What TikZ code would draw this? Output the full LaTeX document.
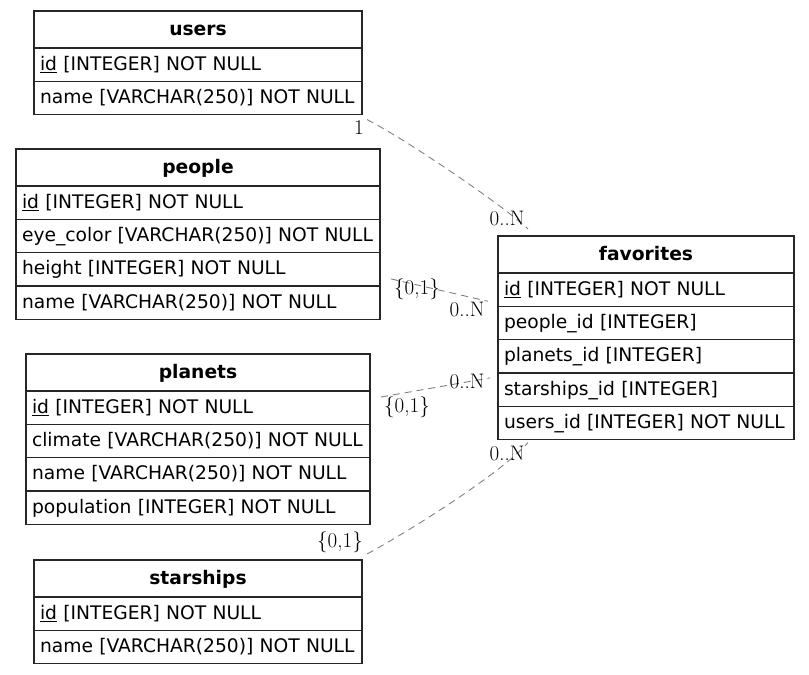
\documentclass[tikz,border=0pt]{standalone}
\usepackage{fontspec}
\setsansfont{DejaVu Sans}
\begin{document}
\begin{tikzpicture}[x=1pt,y=-1pt,
  tbl/.style={draw=black!85, line width=1.2pt, anchor=north west, inner xsep=6pt, inner ysep=0pt, outer sep=0pt,
    font=\sffamily\fontsize{18.7}{22}\selectfont, text height=15pt, text depth=4pt},
  ttl/.style={tbl, font=\sffamily\bfseries\fontsize{18.7}{22}\selectfont, align=center, minimum height=37pt, text width=#1},
  rw/.style={tbl, align=left, minimum height=33.3pt, text width=#1},
  card/.style={font=\fontsize{21}{24}\selectfont, inner sep=0pt, text=black},
  rel/.style={draw=gray, line width=0.9pt, dash pattern=on 7pt off 5pt}
]
\useasboundingbox (0,0) rectangle (809,675);

% users
\node[ttl=316pt] (users-title) at (34,11) {users};
\node[rw=316pt] (users-id) at (users-title.south west) {\underline{id} [INTEGER] NOT NULL};
\node[rw=316pt] (users-name) at (users-id.south west) {name [VARCHAR(250)] NOT NULL};

% people
\node[ttl=352pt] (people-title) at (16,149) {people};
\node[rw=352pt] (people-id) at (people-title.south west) {\underline{id} [INTEGER] NOT NULL};
\node[rw=352pt] (people-eye) at (people-id.south west) {eye\_color [VARCHAR(250)] NOT NULL};
\node[rw=352pt] (people-height) at (people-eye.south west) {height [INTEGER] NOT NULL};
\node[rw=352pt] (people-name) at (people-height.south west) {name [VARCHAR(250)] NOT NULL};

% planets
\node[ttl=332pt] (planets-title) at (26,354) {planets};
\node[rw=332pt] (planets-id) at (planets-title.south west) {\underline{id} [INTEGER] NOT NULL};
\node[rw=332pt] (planets-climate) at (planets-id.south west) {climate [VARCHAR(250)] NOT NULL};
\node[rw=332pt] (planets-name) at (planets-climate.south west) {name [VARCHAR(250)] NOT NULL};
\node[rw=332pt] (planets-pop) at (planets-name.south west) {population [INTEGER] NOT NULL};

% starships
\node[ttl=316pt] (starships-title) at (34,560) {starships};
\node[rw=316pt] (starships-id) at (starships-title.south west) {\underline{id} [INTEGER] NOT NULL};
\node[rw=316pt] (starships-name) at (starships-id.south west) {name [VARCHAR(250)] NOT NULL};

% favorites
\node[ttl=284pt] (fav-title) at (498,236) {favorites};
\node[rw=284pt] (fav-id) at (fav-title.south west) {\underline{id} [INTEGER] NOT NULL};
\node[rw=284pt] (fav-people) at (fav-id.south west) {people\_id [INTEGER]};
\node[rw=284pt] (fav-planets) at (fav-people.south west) {planets\_id [INTEGER]};
\node[rw=284pt] (fav-starships) at (fav-planets.south west) {starships\_id [INTEGER]};
\node[rw=284pt] (fav-users) at (fav-starships.south west) {users\_id [INTEGER] NOT NULL};

% relations
\draw[rel] ([shift={(5,5)}]users-name.south east) .. controls (402,137) and (503,205) .. ([shift={(30,-7)}]fav-title.north west);
\draw[rel] ([shift={(11,-7)}]people-height.south east) -- ([shift={(-10,-5)}]fav-id.south west);
\draw[rel] ([shift={(11,6)}]planets-id.north east) -- ([shift={(-8,5)}]fav-starships.north west);
\draw[rel] ([shift={(5,-6)}]starships-title.north east) .. controls (415,528) and (505,470) .. ([shift={(30,3)}]fav-users.south west);

% cardinality labels
\node[card] (c-u1) at (359,128) {1};
\node[card] (c-u2) at (507,218) {0..N};
\node[card] (c-p1) at (417,289) {\{0,1\}};
\node[card] (c-p2) at (467,309) {0..N};
\node[card] (c-pl1) at (407,407) {\{0,1\}};
\node[card] (c-pl2) at (467,381) {0..N};
\node[card] (c-s1) at (340,542) {\{0,1\}};
\node[card] (c-s2) at (507,453) {0..N};
\end{tikzpicture}
\end{document}
